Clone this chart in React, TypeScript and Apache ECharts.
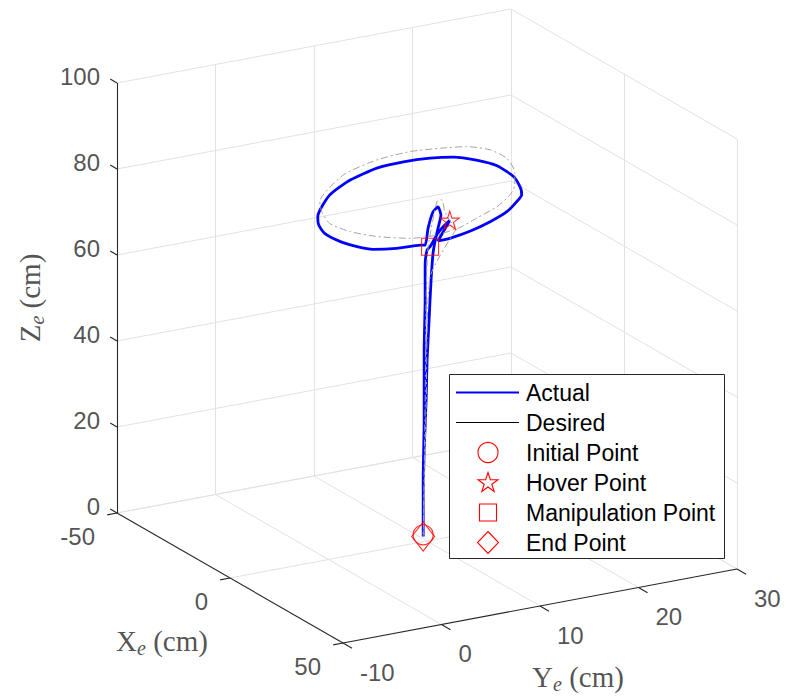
import React, { useEffect, useRef } from 'react';
import * as echarts from 'echarts';

// ---- axis ticks (cm) ----
const xTicks = [-50, 0, 50];
const yTicks = [-10, 0, 10, 20, 30];
const zTicks = [0, 20, 40, 60, 80, 100];

// ---- trajectories [X, Y, Z] in cm ----
const actualPath: number[][] = [
  [-3, 10.3, 0], [-3, 10.3, 13.1], [-3, 10.4, 27.1], [-3, 10.4, 43.3], [-3, 10.5, 54.9],
  [-3, 10.5, 63.0], [-3, 10.7, 66.5], [-3, 11.0, 67.1], [-3, 11.6, 69.3], [-3, 12.2, 70.9],
  [-3, 13.0, 72.4], [-3, 11.8, 68.1],
  [-3, 13.0, 68.2], [-3, 15.1, 69.0], [-3, 17.1, 70.3], [-3, 18.8, 71.9], [-3, 19.8, 73.8],
  [-3, 20.3, 75.2], [-3, 20.2, 76.7], [-3, 19.5, 79.7], [-3, 17.8, 83.0], [-3, 15.7, 85.2],
  [-3, 13.4, 86.9], [-3, 11.0, 87.7], [-3, 8.3, 88.0], [-3, 5.6, 87.7], [-3, 2.9, 86.1],
  [-3, 0.8, 83.5], [-3, -0.4, 79.0], [-3, -0.3, 77.0], [-3, 0.3, 74.8], [-3, 1.9, 72.2],
  [-3, 3.6, 70.3], [-3, 5.2, 69.0], [-3, 7.6, 68.2], [-3, 10.0, 67.9],
  [-3, 10.5, 67.7], [-3, 10.8, 71.5], [-3, 11.3, 75.1], [-3, 11.8, 76.0], [-3, 12.1, 74.0],
  [-3, 11.8, 71.0], [-3, 11.5, 68.1], [-3, 11.3, 65.4], [-3, 11.1, 59.3], [-3, 10.9, 50.1],
  [-3, 10.7, 40.9], [-3, 10.6, 31.6], [-3, 10.4, 20.1], [-3, 10.3, 8.5], [-3, 10.3, 0],
];

const desiredPath: number[][] = [
  [-3, 10.3, 0], [-3, 10.5, 30], [-3, 10.6, 55], [-3, 10.8, 67], [-3, 11.7, 77.3],
  [-3, 12.2, 77.5], [-3, 12.5, 74.6], [-3, 13.0, 72.4], [-3, 13.7, 70.2], [-3, 15.7, 71.7],
  [-3, 17.8, 73.5], [-3, 19.1, 75.6], [-3, 19.6, 77.7], [-3, 19.6, 80.8], [-3, 18.8, 84.3],
  [-3, 17.1, 87.0], [-3, 14.7, 88.8], [-3, 12.3, 89.5], [-3, 9.0, 90.1], [-3, 5.6, 89.6],
  [-3, 2.2, 87.6], [-3, -0.2, 82.4], [-3, 0.0, 80.0], [-3, 0.8, 76.9], [-3, 2.9, 74.1],
  [-3, 5.6, 71.8], [-3, 9.0, 69.9], [-3, 11.7, 69.5], [-3, 13.7, 70.2], [-3, 11.0, 60],
  [-3, 10.6, 30], [-3, 10.3, 0],
];

const initialPoint = [-3, 10.3, 0.4];
const hoverPoint = [-3, 13.0, 72.4];
const manipulationPoint = [-3, 11.0, 67.1];
const endPoint = [-3, 10.3, 0];

const legendNames = ['Actual', 'Desired', 'Initial Point', 'Hover Point', 'Manipulation Point', 'End Point'];

// ---- orthographic view (az/el fixed) : screen projection of the 3D box ----
const X0 = -50, Y0 = -10;
const ORIGIN = [117, 513];
const EX = [2.26, 1.30];
const EY = [9.85, -1.85];
const EZ = [0, -4.30];
function proj(x: number, y: number, z: number): number[] {
  const a = x - X0, b = y - Y0;
  return [ORIGIN[0] + a * EX[0] + b * EY[0] + z * EZ[0], ORIGIN[1] + a * EX[1] + b * EY[1] + z * EZ[1]];
}
const add = (p: number[], d: number[]) => [p[0] + d[0], p[1] + d[1]];

const STAR = 'path://M0,-10L2.23,-3.07L9.51,-3.09L3.61,1.17L5.88,8.09L0,3.8L-5.88,8.09L-3.61,1.17L-9.51,-3.09L-2.23,-3.07Z';

function starPoints(cx: number, cy: number, R: number) {
  const pts: number[][] = [];
  for (let i = 0; i < 10; i++) {
    const ang = (-90 + i * 36) * Math.PI / 180;
    const r = i % 2 === 0 ? R : R * 0.38;
    pts.push([cx + r * Math.cos(ang), cy + r * Math.sin(ang)]);
  }
  return pts;
}

export default function App() {
  const ref = useRef<HTMLDivElement>(null);
  useEffect(() => {
    if (!ref.current) return;
    const chart = echarts.init(ref.current, undefined, { renderer: 'svg' });

    const seg = (p: number[], q: number[]) => ({ coords: [proj(p[0], p[1], p[2]), proj(q[0], q[1], q[2])] });
    const grid: any[] = [];
    yTicks.filter((y) => y !== -10).forEach((y) => grid.push(seg([-50, y, 0], [-50, y, 100])));
    zTicks.forEach((z) => grid.push(seg([-50, -10, z], [-50, 30, z])));
    xTicks.filter((x) => x !== -50).forEach((x) => grid.push(seg([x, 30, 0], [x, 30, 100])));
    zTicks.forEach((z) => grid.push(seg([-50, 30, z], [50, 30, z])));
    yTicks.filter((y) => y !== -10).forEach((y) => grid.push(seg([-50, y, 0], [50, y, 0])));
    xTicks.filter((x) => x !== 50).forEach((x) => grid.push(seg([x, -10, 0], [x, 30, 0])));

    const axes: any[] = [
      seg([-50, -10, 0], [-50, -10, 100]),
      seg([-50, -10, 0], [50, -10, 0]),
      seg([50, -10, 0], [50, 30, 0]),
    ];
    zTicks.forEach((z) => axes.push(seg([-50, -10, z], [-53, -10, z])));
    xTicks.forEach((x) => axes.push(seg([x, -10, 0], [x, -11, 0])));
    yTicks.forEach((y) => axes.push(seg([50, y, 0], [54, y, 0])));

    const tickFont = { fontSize: 24, fontFamily: '"Liberation Sans", Arial, sans-serif', color: '#262626' };
    const labelSeries = (data: any[], align: string) => ({
      type: 'scatter',
      data,
      symbolSize: 1,
      itemStyle: { color: 'rgba(0,0,0,0)' },
      silent: true,
      z: 6,
      label: { show: true, position: 'inside', align, verticalAlign: 'middle', formatter: '{b}', ...tickFont },
    });

    const rich = {
      m: { fontFamily: '"Liberation Serif", "Times New Roman", serif', fontSize: 29, color: '#262626', lineHeight: 34 },
      s: { fontFamily: '"Liberation Serif", "Times New Roman", serif', fontStyle: 'italic', fontSize: 20, color: '#262626', lineHeight: 18, verticalAlign: 'bottom' },
    };
    const titleSeries = (name: string, pos: number[], rotate: number) => ({
      type: 'scatter',
      data: [{ name, value: pos }],
      symbolSize: 1,
      itemStyle: { color: 'rgba(0,0,0,0)' },
      silent: true,
      z: 6,
      label: {
        show: true, position: 'inside', align: 'center', verticalAlign: 'middle', rotate,
        formatter: '{m|' + name + '}{s|e}{m| (cm)}', rich,
      },
    });

    const marker = (name: string, p: number[], symbol: string, size: any) => ({
      type: 'scatter',
      name,
      data: [proj(p[0], p[1], p[2])],
      symbol,
      symbolSize: size,
      itemStyle: { color: 'rgba(0,0,0,0)', borderColor: '#ff0000', borderWidth: 1.1 },
      silent: true,
      z: 5,
    });

    const lx = 488, tx = 526, rowY = (i: number) => 392.5 + i * 30;
    const txtStyle = (t: string) => ({ text: t, fill: '#000', font: '23px "Liberation Sans", Arial, sans-serif', verticalAlign: 'middle' });
    const red = { fill: 'none', stroke: '#ff0000', lineWidth: 1.1 };

    chart.setOption({
      animation: false,
      grid: { left: 0, right: 0, top: 0, bottom: 0 },
      xAxis: { type: 'value', min: 0, max: 788, show: false },
      yAxis: { type: 'value', min: 0, max: 698, inverse: true, show: false },
      series: [
        { type: 'lines', coordinateSystem: 'cartesian2d', data: grid, lineStyle: { color: '#e2e2e2', width: 1, opacity: 1 }, silent: true, z: 1 },
        { type: 'lines', coordinateSystem: 'cartesian2d', data: axes, lineStyle: { color: '#262626', width: 1.1, opacity: 1 }, silent: true, z: 2 },
        {
          type: 'line', name: 'Actual', data: actualPath.map((p) => proj(p[0], p[1], p[2])), showSymbol: false, symbol: 'none',
          smooth: 0.2, lineStyle: { color: '#0000ff', width: 2.8 }, silent: true, z: 3,
        },
        {
          type: 'line', name: 'Desired', data: desiredPath.map((p) => proj(p[0], p[1], p[2])), showSymbol: false, symbol: 'none',
          smooth: 0.2, lineStyle: { color: '#a3a3a3', width: 1, type: [7, 3, 2, 3] }, silent: true, z: 4,
        },
        marker('Initial Point', initialPoint, 'circle', 20),
        marker('Hover Point', hoverPoint, STAR, [19, 18]),
        marker('Manipulation Point', manipulationPoint, 'rect', 17),
        marker('End Point', endPoint, 'diamond', [23, 29]),
        labelSeries(zTicks.map((z) => ({ name: String(z), value: add(proj(-50, -10, z), [-17, -7]) })), 'right'),
        labelSeries(xTicks.map((x) => ({ name: String(x), value: add(proj(x, -10, 0), [-22, 23]) })), 'right'),
        labelSeries(yTicks.map((y) => ({ name: String(y), value: add(proj(50, y, 0), [17, 29]) })), 'left'),
        titleSeries('Z', add(proj(-50, -10, 50), [-87, 0]), 90),
        titleSeries('X', add(proj(0, -10, 0), [-68, 63]), 0),
        titleSeries('Y', add(proj(50, 10, 0), [38, 71]), 0),
      ],
      graphic: [
        { type: 'rect', z: 100, shape: { x: 449.5, y: 374.5, width: 275, height: 184 }, style: { fill: '#ffffff', stroke: '#262626', lineWidth: 1 } },
        { type: 'line', z: 101, shape: { x1: 456, y1: rowY(0), x2: 519, y2: rowY(0) }, style: { stroke: '#0000ff', lineWidth: 2.2 } },
        { type: 'line', z: 101, shape: { x1: 456, y1: rowY(1), x2: 519, y2: rowY(1) }, style: { stroke: '#000000', lineWidth: 1 } },
        { type: 'circle', z: 101, shape: { cx: lx, cy: rowY(2), r: 10 }, style: red },
        { type: 'polygon', z: 101, shape: { points: starPoints(lx, rowY(3) + 0.5, 10.5) }, style: red },
        { type: 'rect', z: 101, shape: { x: lx - 8.5, y: rowY(4) - 8.5, width: 17, height: 17 }, style: red },
        { type: 'polygon', z: 101, shape: { points: [[lx, rowY(5) - 11], [lx + 10.5, rowY(5)], [lx, rowY(5) + 11], [lx - 10.5, rowY(5)]] }, style: red },
        ...legendNames.map((n, i) => ({ type: 'text', z: 101, x: tx, y: rowY(i), style: txtStyle(n) })),
      ],
    } as any);
    return () => chart.dispose();
  }, []);
  return <div ref={ref} style={{ position: 'fixed', left: 0, top: 0, width: 788, height: 698, background: '#fff' }} />;
}
